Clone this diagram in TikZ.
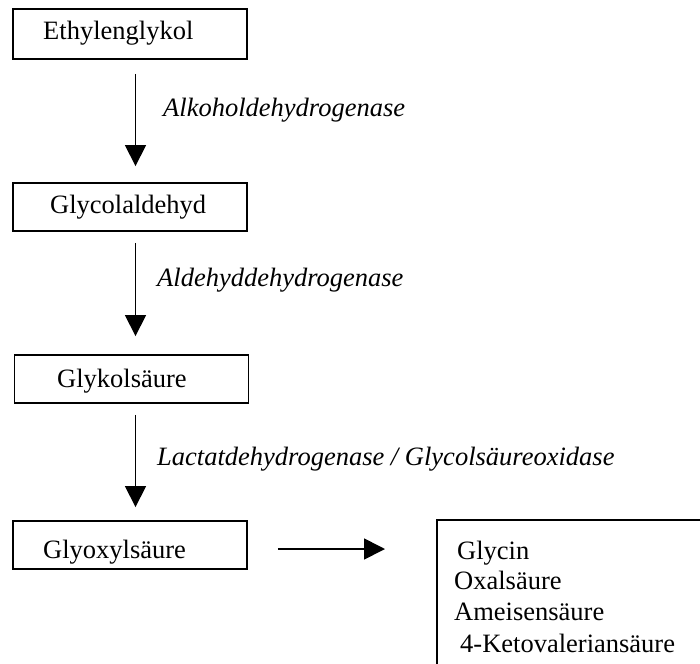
\documentclass[tikz,border=0pt]{standalone}
\usepackage{fontspec}
\setmainfont{Liberation Serif}
\usetikzlibrary{arrows.meta}
\tikzset{
  box/.style={draw, line width=1.9pt, minimum width=234pt, minimum height=48pt, inner sep=0pt},
  txt/.style={anchor=base west, inner sep=0pt, font=\fontsize{26.5}{31}\selectfont},
  enz/.style={anchor=base west, inner sep=0pt, font=\fontsize{26.5}{31}\selectfont\itshape},
  flow/.style={line width=1.7pt, -{Triangle[width=21pt,length=21pt]}},
}
\begin{document}
\begin{tikzpicture}[x=1pt,y=-1pt]
\clip (0,0) rectangle (700,663);
\coordinate (axis) at (135.5,0);
\coordinate (hline) at (0,549);
% boxes
\node[box, minimum height=50pt] (b1) at (130,34) {};
\node[box] (b2) at (130,207) {};
\node[box] (b3) at (131.5,379) {};
\node[box] (b4) at (130,545) {};
\node[draw, line width=1.9pt, minimum width=320pt, minimum height=220pt, anchor=north west, inner sep=0pt] (prod) at (436,519) {};
% box texts
\node[txt] (t1) at (43,40) {Ethylenglykol};
\node[txt] (t2) at (50,213) {Glycolaldehyd};
\node[txt] (t3) at (57,387) {Glykolsäure};
\node[txt] (t4) at (43,558) {Glyoxylsäure};
\node[txt] (p1) at (457,559) {Glycin};
\node[txt] (p2) at (454,589) {Oxalsäure};
\node[txt] (p3) at (454,620) {Ameisensäure};
\node[txt] (p4) at (460,652) {4-Ketovaleriansäure};
% enzyme labels
\node[enz] (e1) at (163,117) {Alkoholdehydrogenase};
\node[enz] (e2) at (157,286) {Aldehyddehydrogenase};
\node[enz] (e3) at (157,465) {Lactatdehydrogenase / Glycolsäureoxidase};
% arrows
\draw[flow, shorten <=14pt, shorten >=16pt] (b1.south -| axis) -- (b2.north -| axis);
\draw[flow, shorten <=11pt, shorten >=18pt] (b2.south -| axis) -- (b3.north -| axis);
\draw[flow, shorten <=11pt, shorten >=13pt] (b3.south -| axis) -- (b4.north -| axis);
\draw[flow, shorten <=30pt, shorten >=51pt] (b4.east |- hline) -- (prod.west |- hline);
\end{tikzpicture}
\end{document}
